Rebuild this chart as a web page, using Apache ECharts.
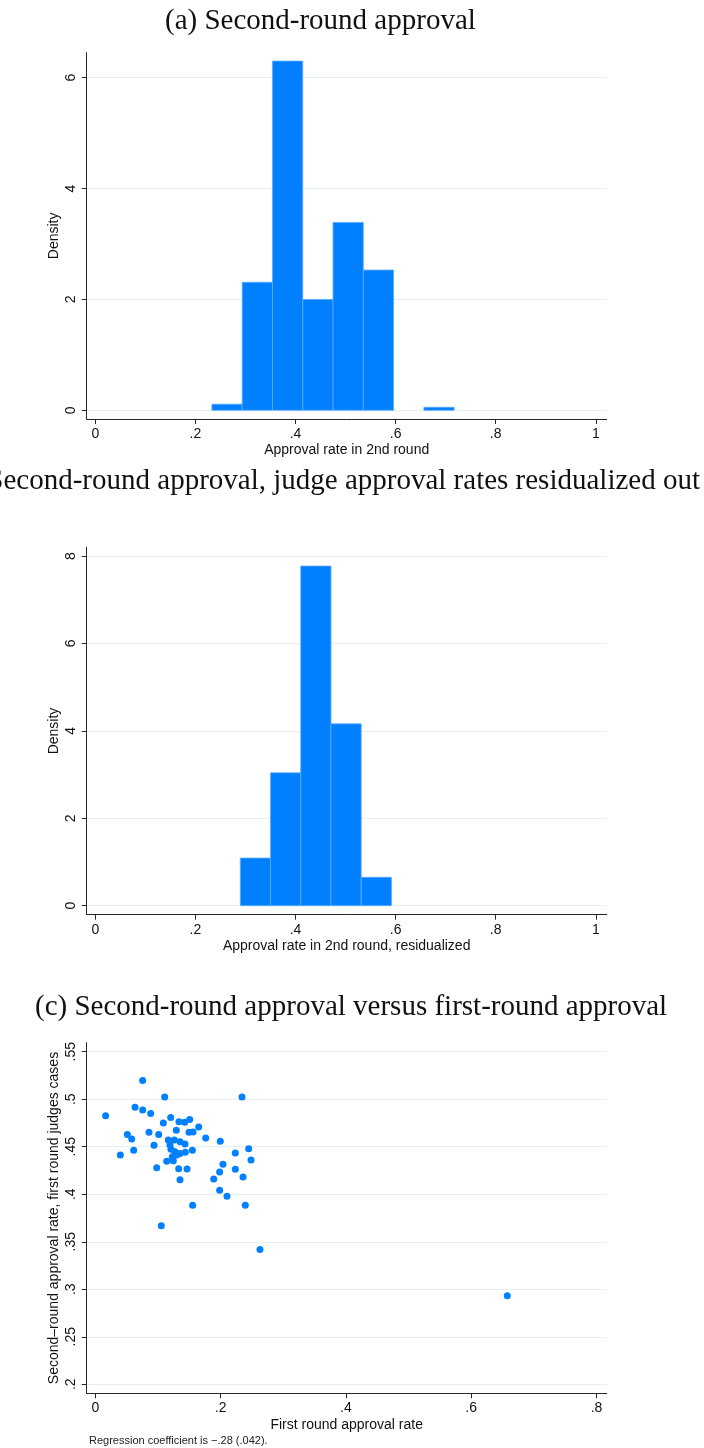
<!DOCTYPE html>
<html>
<head>
<meta charset="utf-8">
<script src="https://cdn.jsdelivr.net/npm/echarts@6/dist/echarts.min.js"></script>
<style>
  html, body { margin: 0; padding: 0; background: #ffffff; }
  #chart { width: 704px; height: 1448px; }
</style>
</head>
<body>
<div id="chart"></div>
<script>
// (a) Histogram of second-round approval rates: bin edges and densities
const binEdgesA = [0.2330, 0.2935, 0.3540, 0.4145, 0.4750, 0.5355, 0.5960, 0.6565, 0.7170];
const densityA  = [0.11, 2.31, 6.30, 2.00, 3.39, 2.53, 0, 0.055];

// (b) Histogram of residualized second-round approval rates
const binEdgesB = [0.2897, 0.3501, 0.4105, 0.4709, 0.5313, 0.5917];
const densityB  = [1.09, 3.04, 7.77, 4.16, 0.65];

// (c) Judge-level first-round vs. second-round approval rates
const firstRoundRate = [
  0.0165, 0.0400, 0.0756, 0.1108, 0.0634, 0.0756, 0.0884, 0.0511, 0.0581, 0.0613,
  0.0857, 0.1012, 0.0937, 0.0980, 0.1086, 0.1203, 0.1053, 0.1165, 0.1293, 0.1336,
  0.1427, 0.1507, 0.1650, 0.1496, 0.1560, 0.1762, 0.1261, 0.1352, 0.1432, 0.1549,
  0.1192, 0.1208, 0.1272, 0.1352, 0.1437, 0.1229, 0.1140, 0.1245, 0.1331, 0.1464,
  0.1352, 0.1554, 0.1995, 0.2038, 0.1985, 0.1890, 0.1985, 0.2102, 0.2235, 0.2235,
  0.2342, 0.2448, 0.2485, 0.2358, 0.2394, 0.2628, 0.6576, 0.1300
];
const secondRoundRate = [
  0.4826, 0.4413, 0.5198, 0.5023, 0.4915, 0.4886, 0.4851, 0.4630, 0.4581, 0.4462,
  0.4652, 0.4630, 0.4515, 0.4279, 0.4749, 0.4809, 0.3668, 0.4571, 0.4673, 0.4763,
  0.4757, 0.4788, 0.4707, 0.4652, 0.4655, 0.4592, 0.4571, 0.4553, 0.4528, 0.4462,
  0.4518, 0.4473, 0.4447, 0.4430, 0.4441, 0.4395, 0.4346, 0.4353, 0.4268, 0.4265,
  0.4153, 0.3883, 0.4557, 0.4315, 0.4234, 0.4160, 0.4041, 0.3978, 0.4434, 0.4262,
  0.5023, 0.4479, 0.4360, 0.4181, 0.3883, 0.3419, 0.2932, 0.4413
];

// Tick values
const histXTicks    = [0, 0.2, 0.4, 0.6, 0.8, 1];
const densityTicksA = [0, 2, 4, 6];
const densityTicksB = [0, 2, 4, 6, 8];
const scatterXTicks = [0, 0.2, 0.4, 0.6, 0.8];
const scatterYTicks = [0.2, 0.25, 0.3, 0.35, 0.4, 0.45, 0.5, 0.55];

const BLUE = '#0080ff';
const SANS = '"Liberation Sans", Arial, Helvetica, sans-serif';
const SERIF = '"Liberation Serif", "Times New Roman", serif';
const AXIS_COLOR = '#262626';
const GRID_COLOR = '#e8eff1';

// Stata-style labels: drop the leading zero (".2", ".45")
function fmt(v) {
  if (v === 0) return '0';
  const s = String(+Number(v).toFixed(4));
  return s.replace(/^0\./, '.').replace(/^-0\./, '-.');
}

function xAxisCfg(gridIndex, min, max, ticks, name) {
  return {
    type: 'value', gridIndex, min, max,
    axisLine: { show: true, onZero: false, lineStyle: { color: AXIS_COLOR, width: 1 } },
    axisTick: { show: true, length: 5, customValues: ticks, lineStyle: { color: AXIS_COLOR } },
    axisLabel: { customValues: ticks, formatter: fmt, fontFamily: SANS, fontSize: 14, color: '#111', margin: 8 },
    splitLine: { show: false },
    name, nameLocation: 'middle', nameGap: 24.5, nameMoveOverlap: false,
    nameTextStyle: { fontFamily: SANS, fontSize: 14, color: '#111' }
  };
}

function yAxisCfg(gridIndex, min, max, ticks, name) {
  return {
    type: 'value', gridIndex, min, max,
    axisLine: { show: true, onZero: false, lineStyle: { color: AXIS_COLOR, width: 1 } },
    axisTick: { show: true, length: 5, customValues: ticks, lineStyle: { color: AXIS_COLOR } },
    axisLabel: { customValues: ticks, formatter: fmt, rotate: 90, fontFamily: SANS, fontSize: 14, color: '#111', margin: 9 },
    splitLine: { show: true, lineStyle: { color: GRID_COLOR, width: 1 } },
    name, nameLocation: 'middle', nameGap: 26, nameRotate: 90, nameMoveOverlap: false,
    nameTextStyle: { fontFamily: SANS, fontSize: 14, color: '#111' }
  };
}

function histSeries(idx, edges, dens) {
  const data = dens.map((d, i) => [edges[i], edges[i + 1], d]);
  return {
    type: 'custom', xAxisIndex: idx, yAxisIndex: idx, data,
    encode: { x: [0, 1], y: 2 },
    renderItem(params, api) {
      const h = api.value(2);
      if (!(h > 0)) return null;
      const tl = api.coord([api.value(0), h]);
      const br = api.coord([api.value(1), 0]);
      return {
        type: 'rect',
        shape: { x: tl[0], y: tl[1], width: br[0] - tl[0], height: br[1] - tl[1] },
        style: { fill: BLUE, stroke: '#5fabff', lineWidth: 0.8 }
      };
    }
  };
}

const scatterData = firstRoundRate.map((x, i) => [x, secondRoundRate[i]]);

const chart = echarts.init(document.getElementById('chart'), null, { renderer: 'canvas' });
chart.setOption({
  animation: false,
  backgroundColor: '#ffffff',
  grid: [
    { left: 86.7, right: 97.3, top: 52.7, height: 366.3 },
    { left: 86.7, right: 97.3, top: 547.3, height: 367.4 },
    { left: 86.7, right: 97.3, top: 1042.7, height: 350.6 }
  ],
  xAxis: [
    xAxisCfg(0, -0.0172, 1.0218, histXTicks, 'Approval rate in 2nd round'),
    xAxisCfg(1, -0.0172, 1.0218, histXTicks, 'Approval rate in 2nd round, residualized'),
    xAxisCfg(2, -0.01373, 0.8163, scatterXTicks, 'First round approval rate')
  ],
  yAxis: [
    yAxisCfg(0, -0.157, 6.451, densityTicksA, 'Density'),
    yAxisCfg(1, -0.206, 8.199, densityTicksB, 'Density'),
    yAxisCfg(2, 0.1905, 0.5595, scatterYTicks, 'Second\u2013round approval rate, first round judges cases')
  ],
  series: [
    histSeries(0, binEdgesA, densityA),
    histSeries(1, binEdgesB, densityB),
    {
      type: 'scatter', xAxisIndex: 2, yAxisIndex: 2,
      data: scatterData, symbol: 'circle', symbolSize: 7,
      itemStyle: { color: BLUE, opacity: 1 }
    }
  ],
  graphic: [
    { type: 'text', left: 165, top: 7,
      style: { text: '(a) Second-round approval', font: '29px ' + SERIF, fill: '#111' } },
    { type: 'text', right: 4, top: 467,
      style: { text: '(b) Second-round approval, judge approval rates residualized out', font: '29px ' + SERIF, fill: '#111' } },
    { type: 'text', left: 35, top: 993,
      style: { text: '(c) Second-round approval versus first-round approval', font: '29px ' + SERIF, fill: '#111' } },
    { type: 'text', left: 89, top: 1435,
      style: { text: 'Regression coefficient is \u2212.28 (.042).', font: '11px ' + SANS, fill: '#222' } }
  ]
});
</script>
</body>
</html>
